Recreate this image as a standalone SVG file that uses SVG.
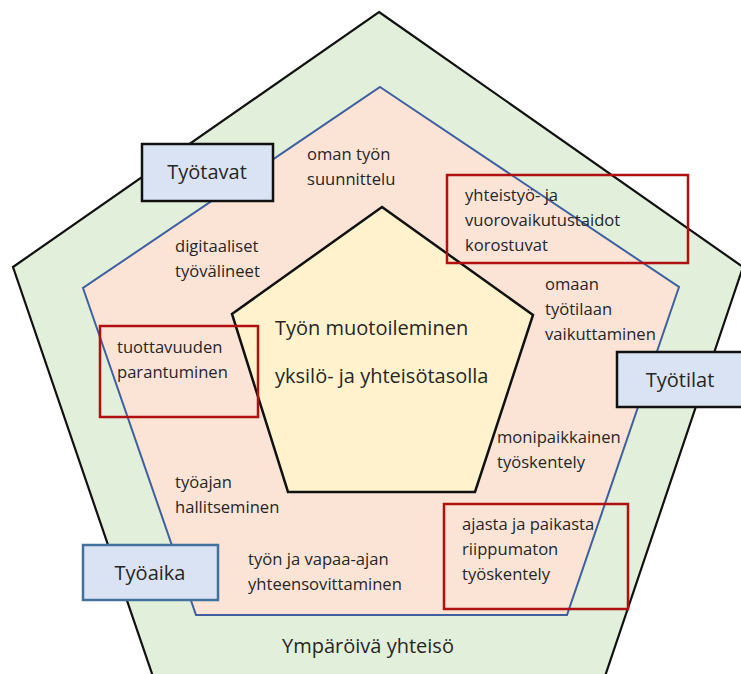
<svg xmlns="http://www.w3.org/2000/svg" width="741" height="674" viewBox="0 0 741 674">
<style>
.t{font-family:"Open Sans","Liberation Sans",sans-serif;font-size:16.6px;fill:#262626}
.title{font-family:"Open Sans","Liberation Sans",sans-serif;font-size:20px;fill:#262626}
.lbl{font-family:"Open Sans","Liberation Sans",sans-serif;font-size:20px;fill:#262626;text-anchor:middle}
.cat{fill:#dae3f3;stroke:#111;stroke-width:2.5}
.red{fill:none;stroke:#b01010;stroke-width:2.5}
</style>
<rect width="741" height="674" fill="#ffffff"/>
<g id="outer">
<polygon points="379,12 743,267 597,700 161,700 13,267" fill="#e2efda" stroke="#111" stroke-width="2.2"/>
<text class="lbl" x="368" y="653">Ympäröivä yhteisö</text>
</g>
<g id="middle">
<polygon points="380,87 679,287 567,615 196,615 83,288" fill="#fbe4d6" stroke="#3f5f9f" stroke-width="2"/>
</g>
<g id="core">
<polygon points="382,207 533,315 475,492 288,492 232,314" fill="#fff2cc" stroke="#111" stroke-width="2.5"/>
<text class="title" x="275" y="335">Työn muotoileminen</text>
<text class="title" x="275" y="383">yksilö- ja yhteisötasolla</text>
</g>
<g id="items">
<text class="t" x="307" y="160">oman työn</text>
<text class="t" x="307" y="185">suunnittelu</text>
<text class="t" x="175" y="252">digitaaliset</text>
<text class="t" x="175" y="277">työvälineet</text>
<text class="t" x="545" y="290">omaan</text>
<text class="t" x="545" y="315">työtilaan</text>
<text class="t" x="545" y="340">vaikuttaminen</text>
<text class="t" x="497" y="443">monipaikkainen</text>
<text class="t" x="497" y="468">työskentely</text>
<text class="t" x="175" y="488">työajan</text>
<text class="t" x="175" y="513">hallitseminen</text>
<text class="t" x="248" y="565">työn ja vapaa-ajan</text>
<text class="t" x="248" y="590">yhteensovittaminen</text>
</g>
<g id="highlight-yhteistyo">
<rect class="red" x="447" y="175" width="241" height="88"/>
<text class="t" x="465" y="201">yhteistyö- ja</text>
<text class="t" x="465" y="226">vuorovaikutustaidot</text>
<text class="t" x="465" y="251">korostuvat</text>
</g>
<g id="highlight-tuottavuus">
<rect class="red" x="100" y="326" width="158" height="91"/>
<text class="t" x="117" y="353">tuottavuuden</text>
<text class="t" x="117" y="378">parantuminen</text>
</g>
<g id="highlight-ajasta">
<rect class="red" x="444" y="504" width="184" height="105"/>
<text class="t" x="462" y="530">ajasta ja paikasta</text>
<text class="t" x="462" y="555">riippumaton</text>
<text class="t" x="462" y="580">työskentely</text>
</g>
<g id="tyotavat">
<rect class="cat" x="142" y="144" width="131" height="57"/>
<text class="lbl" x="207" y="179">Työtavat</text>
</g>
<g id="tyotilat">
<rect class="cat" x="617" y="352" width="127" height="55"/>
<text class="lbl" x="680" y="387">Työtilat</text>
</g>
<g id="tyoaika">
<rect class="cat" x="83" y="545" width="135" height="55" style="stroke:#41719c"/>
<text class="lbl" x="150" y="580">Työaika</text>
</g>
<g id="connectors"></g>
</svg>
